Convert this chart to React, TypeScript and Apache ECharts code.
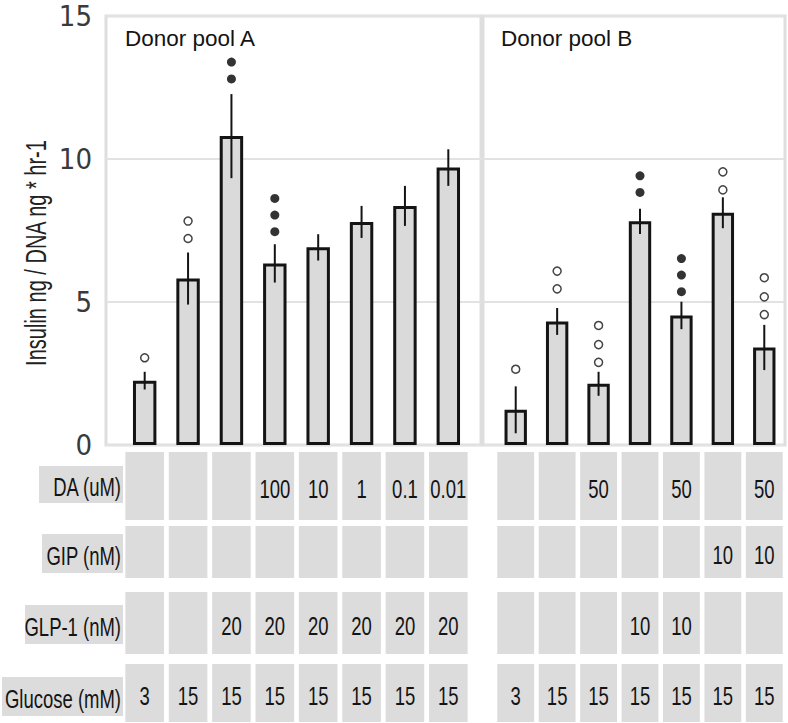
import React, { useEffect, useRef } from "react";
import * as echarts from "echarts";

// ---------- data ----------
const yTicks = [0, 5, 10, 15];
const catsA = ["A1", "A2", "A3", "A4", "A5", "A6", "A7", "A8"];
const catsB = ["B1", "B2", "B3", "B4", "B5", "B6", "B7"];

const meanA = [2.25, 5.82, 10.8, 6.35, 6.91, 7.8, 8.36, 9.7];
const errA = [0.31, 0.91, 1.47, 0.67, 0.46, 0.56, 0.7, 0.64];
const meanB = [1.23, 4.32, 2.14, 7.82, 4.53, 8.12, 3.41];
const errB = [0.82, 0.47, 0.42, 0.44, 0.48, 0.54, 0.79];

const openMarkA = [[3.05], [7.22, 7.83], [], [], [], [], [], []];
const filledMarkA = [[], [], [12.8, 13.39], [7.46, 8.04, 8.62], [], [], [], []];
const openMarkB = [[2.65], [5.46, 6.08], [2.89, 3.51, 4.18], [], [], [8.92, 9.55], [4.56, 5.18, 5.85]];
const filledMarkB = [[], [], [], [8.83, 9.41], [5.36, 5.94, 6.52], [], []];

const rowLabels = ["DA (uM)", "GIP (nM)", "GLP-1 (nM)", "Glucose (mM)"];
const daA = ["", "", "", "100", "10", "1", "0.1", "0.01"];
const gipA = ["", "", "", "", "", "", "", ""];
const glpA = ["", "", "20", "20", "20", "20", "20", "20"];
const gluA = ["3", "15", "15", "15", "15", "15", "15", "15"];
const daB = ["", "", "50", "", "50", "", "50"];
const gipB = ["", "", "", "", "", "10", "10"];
const glpB = ["", "", "", "10", "10", "", ""];
const gluB = ["3", "15", "15", "15", "15", "15", "15"];

// ---------- layout / style ----------
const NARROW = "'Liberation Sans Narrow', 'DejaVu Sans Condensed', sans-serif";
const SANS = "'Liberation Sans', Arial, sans-serif";
const rowBands = [
  { y0: 452, y1: 520 },
  { y0: 526, y1: 578 },
  { y0: 592, y1: 654 },
  { y0: 664, y1: 722 },
];
const labelBoxes = [
  { x0: 39, y0: 466, y1: 503 },
  { x0: 42, y0: 534, y1: 573 },
  { x0: 25, y0: 605, y1: 644 },
  { x0: 2, y0: 677, y1: 716 },
];
const CELL = "#dcdcdc";
const INK = "#141414";
const TXT_SX = 0.88;
const TXT_SY = 1.27;

function markerData(marks: number[][]) {
  const out: number[][] = [];
  marks.forEach((vals, i) => vals.forEach((v) => out.push([i, v])));
  return out;
}

function tableSeries(xi: number, rows: string[][]) {
  return {
    type: "custom",
    xAxisIndex: xi,
    yAxisIndex: xi,
    clip: false,
    silent: true,
    z: 1,
    data: rows[0].map((_, i) => [i, 0]),
    renderItem: (params: any, api: any) => {
      const idx = api.value(0);
      const cx = api.coord([idx, 0])[0];
      const band = api.size([1, 0])[0];
      const w = band * 0.89;
      const children: any[] = [];
      rowBands.forEach((b, r) => {
        children.push({
          type: "rect",
          shape: { x: cx - w / 2, y: b.y0, width: w, height: b.y1 - b.y0 },
          style: { fill: CELL },
        });
        const t = rows[r][idx];
        if (t) {
          children.push({
            type: "text",
            x: cx,
            y: (b.y0 + b.y1) / 2 + 3,
            scaleX: TXT_SX,
            scaleY: TXT_SY,
            style: {
              text: t,
              fill: INK,
              font: `21px ${SANS}`,
              align: "center",
              verticalAlign: "middle",
            },
          });
        }
      });
      return { type: "group", children };
    },
  };
}

function errSeries(xi: number, mean: number[], err: number[]) {
  return {
    type: "custom",
    xAxisIndex: xi,
    yAxisIndex: xi,
    z: 4,
    silent: true,
    data: mean.map((m, i) => [i, m, err[i]]),
    renderItem: (params: any, api: any) => {
      const i = api.value(0);
      const m = api.value(1);
      const e = api.value(2);
      const p1 = api.coord([i, m + e]);
      const p2 = api.coord([i, m - e]);
      return {
        type: "line",
        shape: { x1: p1[0], y1: p1[1], x2: p2[0], y2: p2[1] },
        style: { stroke: INK, lineWidth: 2 },
      };
    },
  };
}

export default function App() {
  const ref = useRef<HTMLDivElement>(null);
  useEffect(() => {
    if (!ref.current) return;
    const chart = echarts.init(ref.current, undefined, { renderer: "svg" });

    const gridTop = 16;
    const gridH = 429;
    const frameY = (show: boolean) => ({
      type: "value",
      min: 0,
      max: 15,
      interval: 5,
      axisLine: { show: false },
      axisTick: { show: false },
      axisLabel: {
        show,
        margin: 14,
        fontSize: 29,
        fontFamily: NARROW,
        color: "#3a3a3a",
        formatter: (v: number) => (yTicks.includes(v) ? String(v) : ""),
      },
      splitLine: { show: true, lineStyle: { color: "#e2e2e2", width: 2 } },
    });
    const hiddenY = {
      type: "value",
      min: 0,
      max: 15,
      show: false,
      splitLine: { show: false },
    };
    const hiddenX = { type: "value", min: 0, max: 1, show: false, splitLine: { show: false } };

    const option: any = {
      animation: false,
      backgroundColor: "#ffffff",
      grid: [
        { left: 106, top: gridTop, width: 375, height: gridH, show: true, borderColor: "#dedede", borderWidth: 3, backgroundColor: "transparent" },
        { left: 483, top: gridTop, width: 302, height: gridH, show: true, borderColor: "#dedede", borderWidth: 3, backgroundColor: "transparent" },
        { left: 123, top: gridTop, width: 347, height: gridH },
        { left: 495, top: gridTop, width: 290, height: gridH },
      ],
      xAxis: [
        { ...hiddenX, gridIndex: 0 },
        { ...hiddenX, gridIndex: 1 },
        { type: "category", gridIndex: 2, data: catsA, show: false },
        { type: "category", gridIndex: 3, data: catsB, show: false },
      ],
      yAxis: [
        { ...frameY(true), gridIndex: 0 },
        { ...frameY(false), gridIndex: 1 },
        { ...hiddenY, gridIndex: 2 },
        { ...hiddenY, gridIndex: 3 },
      ],
      series: [
        tableSeries(2, [daA, gipA, glpA, gluA]),
        tableSeries(3, [daB, gipB, glpB, gluB]),
        {
          type: "bar",
          xAxisIndex: 2,
          yAxisIndex: 2,
          data: meanA,
          barWidth: "54%",
          z: 3,
          itemStyle: { color: "#dadada", borderColor: INK, borderWidth: 3 },
        },
        {
          type: "bar",
          xAxisIndex: 3,
          yAxisIndex: 3,
          data: meanB,
          barWidth: "54%",
          z: 3,
          itemStyle: { color: "#dadada", borderColor: INK, borderWidth: 3 },
        },
        errSeries(2, meanA, errA),
        errSeries(3, meanB, errB),
        {
          type: "scatter",
          xAxisIndex: 2,
          yAxisIndex: 2,
          symbol: "circle",
          symbolSize: 8,
          z: 5,
          data: markerData(openMarkA),
          itemStyle: { color: "#ffffff", borderColor: INK, borderWidth: 1.5 },
        },
        {
          type: "scatter",
          xAxisIndex: 2,
          yAxisIndex: 2,
          symbol: "circle",
          symbolSize: 9,
          z: 5,
          data: markerData(filledMarkA),
          itemStyle: { color: "#000000" },
        },
        {
          type: "scatter",
          xAxisIndex: 3,
          yAxisIndex: 3,
          symbol: "circle",
          symbolSize: 8,
          z: 5,
          data: markerData(openMarkB),
          itemStyle: { color: "#ffffff", borderColor: INK, borderWidth: 1.5 },
        },
        {
          type: "scatter",
          xAxisIndex: 3,
          yAxisIndex: 3,
          symbol: "circle",
          symbolSize: 9,
          z: 5,
          data: markerData(filledMarkB),
          itemStyle: { color: "#000000" },
        },
      ],
      graphic: [
        {
          type: "text",
          x: 125,
          y: 38,
          style: { text: "Donor pool A", font: `22.5px ${SANS}`, fill: INK, verticalAlign: "middle" },
        },
        {
          type: "text",
          x: 501,
          y: 38,
          style: { text: "Donor pool B", font: `22.5px ${SANS}`, fill: INK, verticalAlign: "middle" },
        },
        {
          type: "text",
          x: 36,
          y: 253,
          rotation: Math.PI / 2,
          scaleX: 0.91,
          scaleY: 1.3,
          style: {
            text: "Insulin ng / DNA ng * hr-1",
            font: `22px ${SANS}`,
            fill: "#222222",
            align: "center",
            verticalAlign: "middle",
          },
        },
        ...labelBoxes.map((b, r) => ({
          type: "group",
          children: [
            { type: "rect", shape: { x: b.x0, y: b.y0, width: 123 - b.x0, height: b.y1 - b.y0 }, style: { fill: CELL } },
            {
              type: "text",
              x: 121,
              y: (b.y0 + b.y1) / 2 + 2,
              scaleX: TXT_SX,
              scaleY: TXT_SY,
              style: { text: rowLabels[r], font: `21px ${SANS}`, fill: INK, align: "right", verticalAlign: "middle" },
            },
          ],
        })),
      ],
    };
    chart.setOption(option);
    return () => chart.dispose();
  }, []);
  return <div ref={ref} style={{ position: "fixed", left: 0, top: 0, width: 788, height: 723 }} />;
}
